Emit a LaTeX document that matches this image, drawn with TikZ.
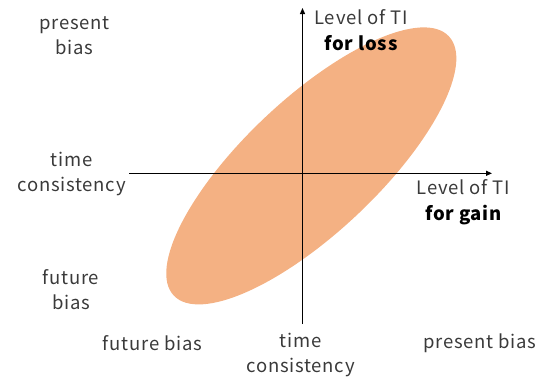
\documentclass[tikz,border=0pt]{standalone}
\usepackage{fontspec}
\setmainfont{Noto Sans CJK JP}[LetterSpace=4]
\usetikzlibrary{arrows.meta}
\definecolor{tifill}{HTML}{F4B183}
\definecolor{labelgray}{HTML}{3A3A3A}
\begin{document}
\begin{tikzpicture}[x=1pt,y=1pt,
  axis/.style={draw=black,line width=1.2pt,-{Triangle[length=6pt,width=5pt]}},
  lbl/.style={align=center,text=labelgray,inner sep=0pt,
    font=\fontsize{18.5}{25}\selectfont},
  axlbl/.style={lbl,font=\fontsize{18.5}{26}\selectfont}]
\useasboundingbox (0,0) rectangle (544,376);
% region of possible TI combinations
\fill[tifill, rotate around={43.3:(311.3,210.1)}]
  (311.3,210.1) ellipse [x radius=189pt, y radius=67pt];
% axes
\coordinate (xstart) at (129,202.7);
\coordinate (xend) at (492,202.7);
\coordinate (ystart) at (302.5,52);
\coordinate (yend) at (302.5,368);
\draw[axis] (xstart) -- (xend);
\draw[axis] (ystart) -- (yend);
% axis titles
\node[axlbl] (ytitle) at (361,346) {Level of TI\\\textcolor{black}{\bfseries for loss}};
\node[axlbl] (xtitle) at (463.5,173.5) {Level of TI\\\textcolor{black}{\bfseries for gain}};
% vertical scale labels
\node[lbl] (ypresent) at (74.5,340.5) {present\\bias};
\node[lbl] (ytime) at (71.5,202.5) {time\\consistency};
\node[lbl] (yfuture) at (71,86.5) {future\\bias};
% horizontal scale labels
\node[lbl] (xfuture) at (152.5,33) {future bias};
\node[lbl] (xtime) at (300.6,21.5) {time\\consistency};
\node[lbl] (xpresent) at (480,33) {present bias};
\end{tikzpicture}
\end{document}
